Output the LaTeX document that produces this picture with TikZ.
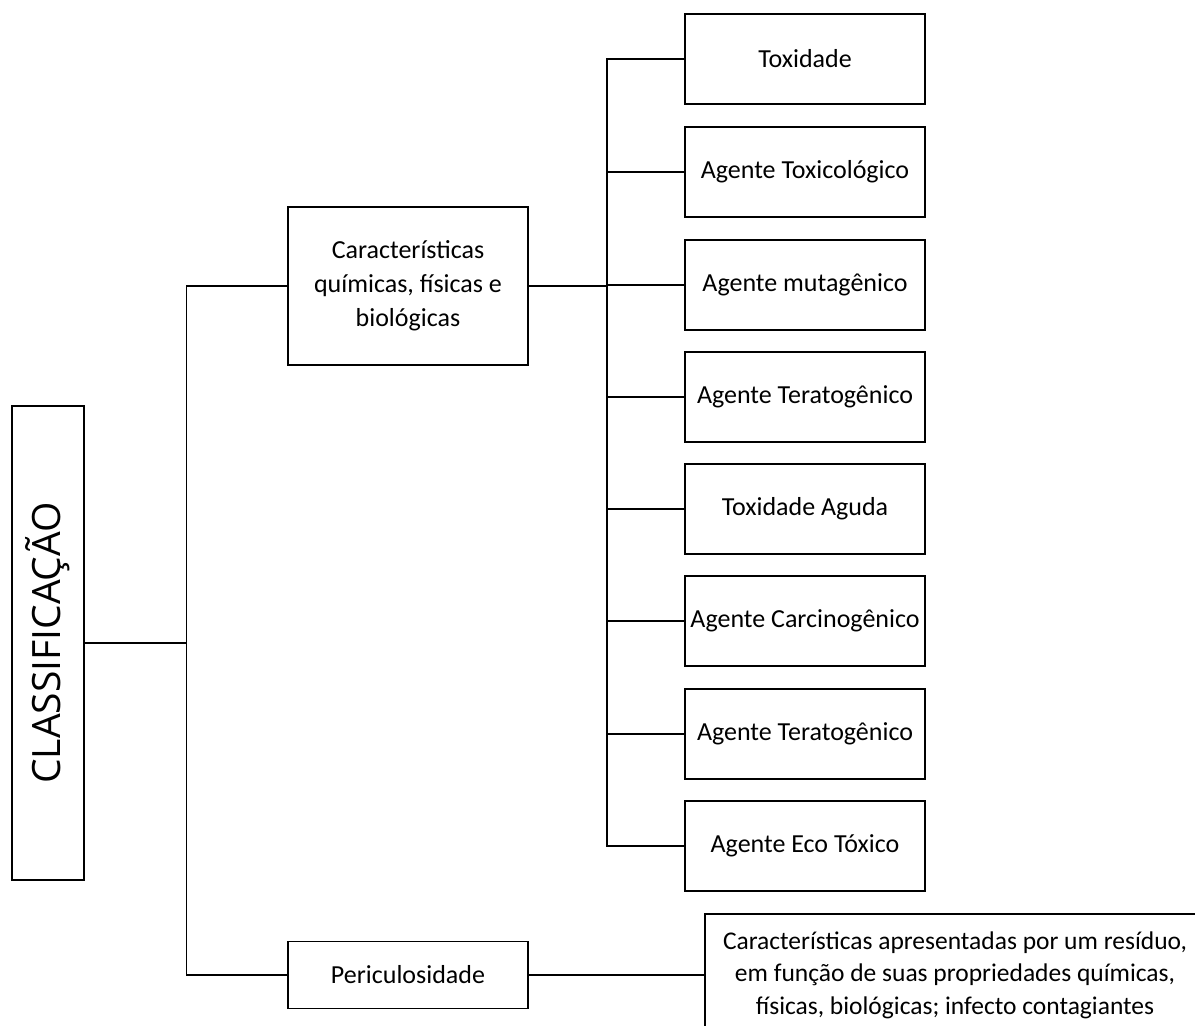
\documentclass[tikz,border=0pt]{standalone}
\usepackage{fontspec}
\setmainfont{Carlito}
\newfontfamily\titlefont{Open Sans}
\begin{document}
\begin{tikzpicture}[x=1pt,y=-1pt,
  box/.style={draw, line width=1.3pt, minimum width=240pt, minimum height=90pt,
    align=center, inner sep=0pt, font=\fontsize{26}{34}\selectfont},
  link/.style={line width=1.3pt}]
\useasboundingbox (0,0) rectangle (1195,1026);

% root box, text running upwards
\node[draw, line width=1.3pt, rotate=90, minimum width=474pt, minimum height=72pt,
  inner sep=0pt, font=\titlefont\fontsize{39}{39}\selectfont] (cls) at (48,643) {CLASSIFICAÇÃO};

% second level
\node[box, minimum height=158pt] (car) at (408,286)
  {Características\\químicas, físicas e\\biológicas};
\node[box, minimum height=67pt] (per) at (408,975) {Periculosidade};

% third level
\node[box] (b1) at (805,59)  {Toxidade};
\node[box] (b2) at (805,172) {Agente Toxicológico};
\node[box] (b3) at (805,285) {Agente mutagênico};
\node[box] (b4) at (805,397) {Agente Teratogênico};
\node[box] (b5) at (805,509) {Toxidade Aguda};
\node[box] (b6) at (805,621) {Agente Carcinogênico};
\node[box] (b7) at (805,734) {Agente Teratogênico};
\node[box] (b8) at (805,846) {Agente Eco Tóxico};

\node[box, minimum width=500pt, minimum height=122pt,
  font=\fontsize{25.5}{32.5}\selectfont] (desc) at (955,975)
  {Características apresentadas por um resíduo,\\
   em função de suas propriedades químicas,\\
   físicas, biológicas; infecto contagiantes};

% connectors
\draw[link] (cls.south) -- ++(102,0) coordinate (trunk);
\draw[link] (car.west) -| (trunk) |- (per.west);

\coordinate (rt) at (607,286);
\draw[link] (car.east) -- (rt);
\draw[link] (b1.west) -| (rt);
\draw[link] (b8.west) -| (rt);
\foreach \b in {b2,b3,b4,b5,b6,b7}
  \draw[link] (\b.west) -- (\b.west -| rt);

\draw[link] (per.east) -- (desc.west);
\end{tikzpicture}
\end{document}
